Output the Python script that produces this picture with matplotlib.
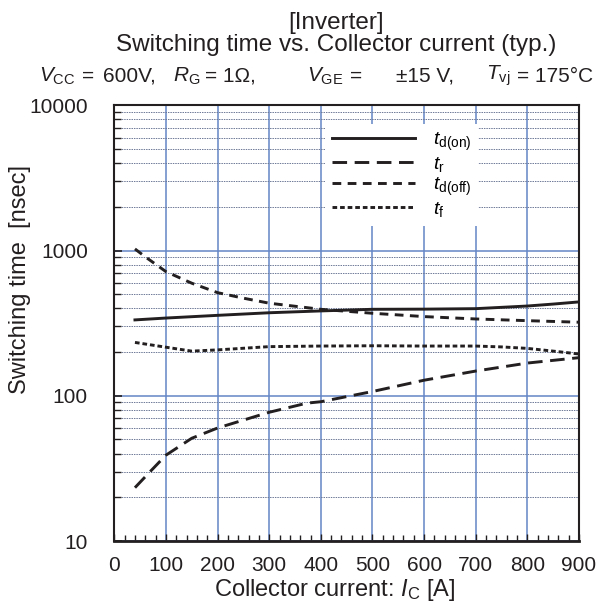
import matplotlib
matplotlib.use('Agg')
import matplotlib.pyplot as plt
from matplotlib.ticker import LogLocator, FixedLocator, MultipleLocator, NullFormatter

plt.rcParams['font.family'] = ['Liberation Sans', 'DejaVu Sans']
plt.rcParams['mathtext.fontset'] = 'custom'
plt.rcParams['mathtext.rm'] = 'Liberation Sans'
plt.rcParams['mathtext.it'] = 'Liberation Sans:italic'

# ── data ───────────────────────────────────────────────────
ic_on = [40, 100, 200, 300, 400, 500, 600, 700, 800, 850, 900]
td_on = [333, 343, 358, 373, 384, 394, 395, 398, 415, 428, 443]

ic_r = [40, 70, 100, 150, 200, 250, 300, 373, 400, 500, 600, 700, 800, 900]
t_r = [23.3, 30.2, 39, 51, 60, 68, 77, 89, 91, 107, 128, 148, 168, 183]

ic_off = [40, 60, 80, 100, 150, 200, 250, 300, 400, 500, 600, 700, 800, 900]
td_off = [1026, 905, 805, 716, 596, 513, 470, 434, 394, 370, 351, 338, 329, 321]

ic_f = [40, 100, 150, 200, 300, 400, 500, 600, 700, 750, 800, 850, 900]
t_f = [233, 216, 203, 207, 218, 220, 221, 220, 220, 217, 212, 203, 194]

x_ticks = [0, 100, 200, 300, 400, 500, 600, 700, 800, 900]
y_ticks = [10, 100, 1000, 10000]

INK = '#231f20'

fig = plt.figure(figsize=(6.08, 6.12), dpi=100)
ax = fig.add_axes([0.188, 0.116, 0.7643, 0.7119])

lw = 2.1
ax.plot(ic_on, td_on, color=INK, lw=lw, label=r'$t_{\mathrm{d(on)}}$')
ax.plot(ic_r, t_r, color=INK, lw=lw, dashes=(5.0, 2.6), label=r'$t_{\mathrm{r}}$')
ax.plot(ic_off, td_off, color=INK, lw=lw, dashes=(3.0, 2.2), label=r'$t_{\mathrm{d(off)}}$')
ax.plot(ic_f, t_f, color=INK, lw=lw, dashes=(1.6, 1.0), label=r'$t_{\mathrm{f}}$')

ax.set_yscale('log')
ax.set_xlim(0, 900)
ax.set_ylim(10, 10000)
ax.xaxis.set_major_locator(FixedLocator(x_ticks))
ax.xaxis.set_minor_locator(MultipleLocator(20))
ax.yaxis.set_minor_locator(LogLocator(base=10, subs=range(2, 10)))
ax.yaxis.set_minor_formatter(NullFormatter())
ax.set_yticks(y_ticks)
ax.set_yticklabels([str(v) for v in y_ticks])

# grid
ax.grid(True, which='major', axis='both', color='#6385c6', lw=1.1, zorder=0)
ax.grid(True, which='minor', axis='y', color='#6c7896', lw=0.7, ls=(0, (1.5, 1.0)), zorder=0)
ax.set_axisbelow(True)

ax.tick_params(which='both', direction='in', top=False, right=False, labelsize=15, colors=INK)
ax.tick_params(axis='y', which='major', length=6, width=1.2, pad=19)
ax.tick_params(axis='y', which='minor', length=5, width=1.0)
ax.tick_params(axis='x', which='major', length=5, width=1.0, pad=11)
ax.tick_params(axis='x', which='minor', length=4, width=1.0)
for sp in ax.spines.values():
    sp.set_color(INK)
    sp.set_linewidth(1.5)
ax.spines['bottom'].set_linewidth(2.0)

fig.text(335 / 608, 1 - 590 / 612, r'Collector current: $I_{\mathrm{C}}$ [A]', fontsize=17,
         color=INK, ha='center', va='center')
fig.text(20 / 608, 1 - 280 / 612, 'Switching time  [nsec]', rotation=90, fontsize=17,
         color=INK, ha='center', va='center')

leg = ax.legend(loc='upper left', bbox_to_anchor=(0.453, 0.957), fontsize=14, frameon=True,
                fancybox=False, edgecolor='none', facecolor='white', framealpha=1.0,
                handlelength=4.3, handletextpad=0.9, labelspacing=0.1,
                borderpad=0.35, borderaxespad=0)

# titles
title_x = 336 / 608
fig.text(title_x, 1 - 23 / 612, '[Inverter]', fontsize=17.5, ha='center', va='center', color=INK)
fig.text(title_x, 1 - 45 / 612, 'Switching time vs. Collector current (typ.)', fontsize=17.5,
         ha='center', va='center', color=INK)
cond_y = 1 - 76 / 612
conds = [(39, r'$V_{\mathrm{CC}}$'), (82, '='), (103, '600V,'), (173, r'$R_{\mathrm{G}}$'),
         (205, '= 1Ω,'), (307, r'$V_{\mathrm{GE}}$'), (350, '='), (396, '±15 V,'),
         (486, r'$T_{\mathrm{vj}}$'), (517, '= 175°C')]
for px, s in conds:
    fig.text(px / 608, cond_y, s, fontsize=15, ha='left', va='center', color=INK)

fig.savefig('out.png', dpi=100)
